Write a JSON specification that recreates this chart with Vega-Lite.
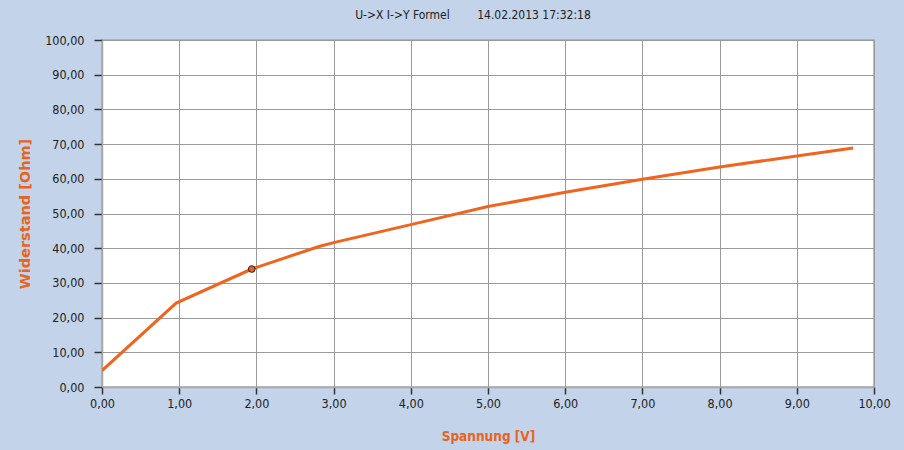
{
  "$schema": "https://vega.github.io/schema/vega-lite/v6.json",
  "width": 772,
  "height": 347,
  "autosize": {"type": "none"},
  "padding": {"left": 102, "top": 40, "right": 30, "bottom": 63},
  "background": "#c3d3e9",
  "title": {
    "text": "U->X I->Y Formel\u00a0\u00a0\u00a0\u00a0\u00a0\u00a0\u00a0\u00a014.02.2013 17:32:18",
    "font": "DejaVu Sans Condensed, sans-serif",
    "fontSize": 12,
    "fontWeight": "normal",
    "color": "#222222",
    "anchor": "middle",
    "dx": -15,
    "offset": 12
  },
  "config": {
    "view": {"fill": "#ffffff", "stroke": "#a8a8a8", "strokeWidth": 1.5},
    "axis": {
      "labelFont": "DejaVu Sans Condensed, sans-serif",
      "labelFontSize": 12.5,
      "labelColor": "#222222",
      "labelOverlap": false,
      "gridColor": "#9a9a9a",
      "gridWidth": 1,
      "gridOpacity": 1,
      "tickColor": "#333333",
      "tickWidth": 1.5,
      "domainColor": "#a8a8a8",
      "domainWidth": 1.5
    }
  },
  "data": {
    "values": [
      {"U": 0.0, "R": 4.75},
      {"U": 0.96, "R": 24.2},
      {"U": 1.94, "R": 34.0},
      {"U": 2.81, "R": 40.5},
      {"U": 3.0, "R": 41.6},
      {"U": 4.0, "R": 46.8},
      {"U": 5.0, "R": 52.0},
      {"U": 6.0, "R": 56.1},
      {"U": 7.0, "R": 59.9},
      {"U": 8.0, "R": 63.4},
      {"U": 9.0, "R": 66.6},
      {"U": 9.73, "R": 68.9}
    ]
  },
  "encoding": {
    "x": {
      "field": "U",
      "type": "quantitative",
      "scale": {"domain": [0, 10], "nice": false},
      "axis": {
        "title": "Spannung [V]",
        "titleFont": "DejaVu Sans Condensed, sans-serif",
        "titleFontSize": 13.5,
        "titleFontWeight": "bold",
        "titleColor": "#e8641e",
        "titlePadding": 20,
        "values": [0, 1, 2, 3, 4, 5, 6, 7, 8, 9, 10],
        "tickCount": 20,
        "labelExpr": "replace(format(datum.value, '.2f'), '.', ',')",
        "labelOverlap": false,
        "tickSize": 7,
        "labelPadding": 3,
        "labelFlush": false,
        "grid": true
      }
    },
    "y": {
      "field": "R",
      "type": "quantitative",
      "scale": {"domain": [0, 100], "nice": false},
      "axis": {
        "title": "Widerstand [Ohm]",
        "titleFont": "DejaVu Sans, sans-serif",
        "titleFontSize": 14.5,
        "titleFontWeight": "bold",
        "titleColor": "#e8641e",
        "titlePadding": 12,
        "values": [0, 10, 20, 30, 40, 50, 60, 70, 80, 90, 100],
        "tickCount": 20,
        "labelExpr": "replace(format(datum.value, '.2f'), '.', ',')",
        "labelOverlap": false,
        "tickSize": 8,
        "labelPadding": 10,
        "labelFlush": false,
        "grid": true
      }
    }
  },
  "layer": [
    {
      "mark": {"type": "line", "color": "#f0641e", "strokeWidth": 3, "clip": true}
    },
    {
      "transform": [{"filter": "datum.U == 1.94"}],
      "mark": {"type": "point", "filled": true, "fill": "#e8641e", "stroke": "#222222", "strokeWidth": 1, "size": 45, "opacity": 1}
    }
  ]
}
